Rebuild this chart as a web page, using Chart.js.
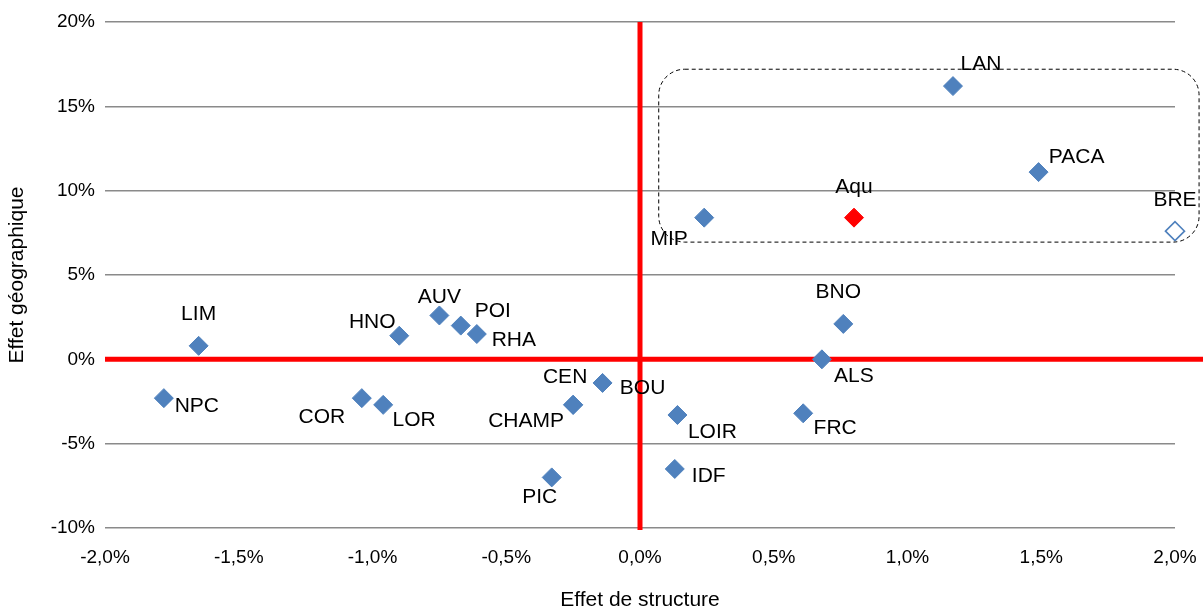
<!DOCTYPE html>
<html lang="fr">
<head>
<meta charset="utf-8">
<script src="https://cdn.jsdelivr.net/npm/chart.js@4/dist/chart.umd.min.js"></script>
<style>
  html, body { margin: 0; padding: 0; background: #fff; }
  #wrap { width: 1203px; height: 611px; position: relative; }
</style>
</head>
<body>
<div id="wrap"><canvas id="chart"></canvas></div>
<script>
// regions
const regions = ['LAN', 'PACA', 'Aqu', 'BRE', 'MIP', 'BNO', 'ALS', 'FRC', 'LOIR', 'IDF', 'BOU',
  'CEN', 'CHAMP', 'PIC', 'LIM', 'NPC', 'HNO', 'AUV', 'POI', 'RHA', 'COR', 'LOR'];
// effet de structure, en %
const structureEffect = [1.17, 1.49, 0.80, 2.00, 0.24, 0.76, 0.68, 0.61, 0.14, 0.13, -0.14,
  -0.25, -0.25, -0.33, -1.65, -1.78, -0.90, -0.75, -0.67, -0.61, -1.04, -0.96];
// effet géographique, en %
const geoEffect = [16.2, 11.1, 8.4, 7.6, 8.4, 2.1, 0.0, -3.2, -3.3, -6.5, -1.4,
  -2.7, -2.7, -7.0, 0.8, -2.3, 1.4, 2.6, 2.0, 1.5, -2.3, -2.7];

const xMin = -2, xMax = 2, xStep = 0.5;
const yMin = -10, yMax = 20, yStep = 5;

// zone highlighted by the dashed box (data units)
const boxX = [0.07, 2.09];
const boxY = [6.95, 17.2];

const BLUE = '#4F81BD';
const RED = '#FF0000';
const FONT = '"Liberation Sans", Arial, sans-serif';

// where each label sits relative to its marker (px)
const labelOffsets = {
  LAN: [28, -22], PACA: [38, -15], Aqu: [0, -30], BRE: [0, -31], MIP: [-35, 22],
  BNO: [-5, -32], ALS: [32, 17], FRC: [32, 15], LOIR: [35, 17], IDF: [34, 7],
  BOU: [40, 5], CEN: [-8, -28], CHAMP: [-47, 16], PIC: [-12, 20], LIM: [0, -32],
  NPC: [33, 8], HNO: [-27, -14], AUV: [0, -18], POI: [32, -14], RHA: [37, 6],
  COR: [-40, 19], LOR: [31, 15]
};

const points = regions.map((r, i) => ({ x: structureEffect[i], y: geoEffect[i], name: r }));

const fillColors = regions.map(r => r === 'Aqu' ? RED : (r === 'BRE' ? '#FFFFFF' : BLUE));
const borderColors = regions.map(r => r === 'Aqu' ? RED : BLUE);
const borderWidths = regions.map(r => r === 'BRE' ? 1.6 : 1);

// red axes through zero, drawn under the markers
const zeroLines = {
  id: 'zeroLines',
  beforeDatasetsDraw(chart) {
    const { ctx, chartArea, scales } = chart;
    const x0 = scales.x.getPixelForValue(0);
    const y0 = scales.y.getPixelForValue(0);
    ctx.save();
    ctx.strokeStyle = RED;
    ctx.lineWidth = 5;
    ctx.beginPath();
    ctx.moveTo(chartArea.left, y0);
    ctx.lineTo(chart.width, y0);
    ctx.moveTo(x0, chartArea.top);
    ctx.lineTo(x0, chartArea.bottom + 2);
    ctx.stroke();
    ctx.restore();
  }
};

// dashed rounded box + point labels
const annotations = {
  id: 'annotations',
  afterDatasetsDraw(chart) {
    const { ctx, scales } = chart;
    const l = scales.x.getPixelForValue(boxX[0]);
    const r = scales.x.getPixelForValue(boxX[1]);
    const t = scales.y.getPixelForValue(boxY[1]);
    const b = scales.y.getPixelForValue(boxY[0]);
    ctx.save();
    ctx.strokeStyle = '#000';
    ctx.lineWidth = 1;
    ctx.setLineDash([4, 3]);
    ctx.beginPath();
    ctx.roundRect(l, t, r - l, b - t, 26);
    ctx.stroke();
    ctx.restore();

    const meta = chart.getDatasetMeta(0);
    ctx.save();
    ctx.font = '21px ' + FONT;
    ctx.fillStyle = '#000';
    ctx.textAlign = 'center';
    ctx.textBaseline = 'middle';
    meta.data.forEach((pt, i) => {
      const off = labelOffsets[regions[i]] || [0, -25];
      ctx.fillText(regions[i], pt.x + off[0], pt.y + off[1]);
    });
    ctx.restore();
  }
};

new Chart(document.getElementById('chart'), {
  type: 'scatter',
  data: {
    datasets: [{
      data: points,
      clip: false,
      pointStyle: 'rectRot',
      pointRadius: 9.5,
      pointHoverRadius: 9.5,
      backgroundColor: fillColors,
      borderColor: borderColors,
      borderWidth: borderWidths
    }]
  },
  options: {
    responsive: true,
    maintainAspectRatio: false,
    animation: false,
    layout: { padding: { top: 22, right: 28, bottom: 0, left: 0 } },
    plugins: { legend: { display: false }, tooltip: { enabled: false } },
    scales: {
      x: {
        type: 'linear',
        min: xMin,
        max: xMax,
        afterFit(scale) {
          scale.height = 83;
          scale.paddingLeft = 0;
          scale.paddingRight = 0;
        },
        afterBuildTicks(scale) {
          const ticks = [];
          for (let v = xMin; v <= xMax + 1e-9; v += xStep) ticks.push({ value: +v.toFixed(2) });
          scale.ticks = ticks;
        },
        grid: { display: false },
        border: { display: false },
        ticks: {
          padding: 10,
          color: '#000',
          font: { family: FONT, size: 19 },
          maxRotation: 0,
          callback: v => v.toFixed(1).replace('.', ',') + '%'
        },
        title: {
          display: true,
          text: 'Effet de structure',
          color: '#000',
          font: { family: FONT, size: 21, lineHeight: 1 },
          padding: { top: 0, bottom: 0 }
        }
      },
      y: {
        type: 'linear',
        min: yMin,
        max: yMax,
        afterFit(scale) { scale.width = 105; },
        grid: { color: '#8a8a8a', lineWidth: 1.5, drawTicks: false },
        border: { display: false },
        ticks: {
          stepSize: yStep,
          padding: 10,
          color: '#000',
          font: { family: FONT, size: 19 },
          callback: v => v + '%'
        },
        title: {
          display: true,
          text: 'Effet géographique',
          color: '#000',
          font: { family: FONT, size: 21 },
          padding: { top: 5, bottom: 0 }
        }
      }
    }
  },
  plugins: [zeroLines, annotations]
});
</script>
</body>
</html>
